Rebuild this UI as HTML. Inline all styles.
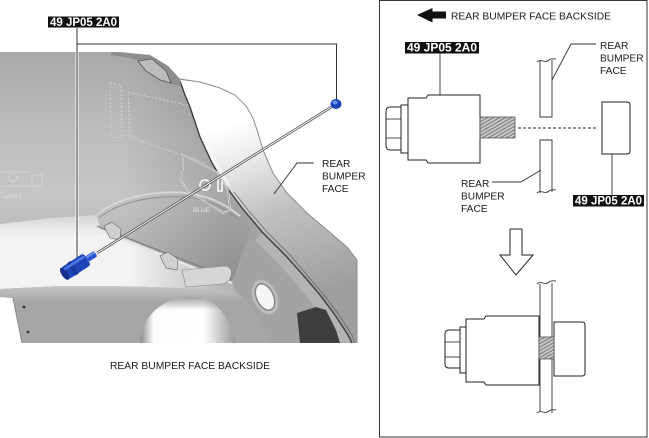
<!DOCTYPE html>
<html><head><meta charset="utf-8"><style>
html,body{margin:0;padding:0;background:#fff;}
svg{display:block;}
text{font-family:"Liberation Sans",Arial,sans-serif;}
</style></head><body>
<svg width="649" height="438" viewBox="0 0 649 438" xmlns="http://www.w3.org/2000/svg">
<defs>
 <linearGradient id="gUp" gradientUnits="userSpaceOnUse" x1="0" y1="52" x2="0" y2="290">
  <stop offset="0" stop-color="#a9a9a9"/><stop offset="0.35" stop-color="#bebebe"/><stop offset="0.6" stop-color="#c6c6c6"/><stop offset="1" stop-color="#a8a8a8"/>
 </linearGradient>
 <linearGradient id="gUpH" gradientUnits="userSpaceOnUse" x1="120" y1="0" x2="230" y2="0">
  <stop offset="0" stop-color="#000" stop-opacity="0"/><stop offset="1" stop-color="#000" stop-opacity="0.16"/>
 </linearGradient>
 <linearGradient id="gFace" gradientUnits="userSpaceOnUse" x1="240" y1="120" x2="300" y2="300">
  <stop offset="0" stop-color="#ffffff"/><stop offset="0.2" stop-color="#ececec"/><stop offset="0.5" stop-color="#c2c2c2"/><stop offset="1" stop-color="#9e9e9e"/>
 </linearGradient>
 <linearGradient id="gLowW" gradientUnits="userSpaceOnUse" x1="0" y1="206" x2="0" y2="236">
  <stop offset="0" stop-color="#c6c6c6"/><stop offset="1" stop-color="#f3f3f3"/>
 </linearGradient>
 <linearGradient id="gLowWH" gradientUnits="userSpaceOnUse" x1="130" y1="0" x2="240" y2="0">
  <stop offset="0" stop-color="#000" stop-opacity="0"/><stop offset="1" stop-color="#000" stop-opacity="0.28"/>
 </linearGradient>
 <linearGradient id="gBand" gradientUnits="userSpaceOnUse" x1="0" y1="287" x2="0" y2="302">
  <stop offset="0" stop-color="#c4c4c4"/><stop offset="1" stop-color="#a6a6a6"/>
 </linearGradient>
 <linearGradient id="gArch" gradientUnits="userSpaceOnUse" x1="140" y1="0" x2="238" y2="0">
  <stop offset="0" stop-color="#8a8a8a"/><stop offset="0.14" stop-color="#fcfcfc"/><stop offset="0.65" stop-color="#ffffff"/><stop offset="1" stop-color="#909090"/>
 </linearGradient>
 <linearGradient id="gArchV" gradientUnits="userSpaceOnUse" x1="0" y1="296" x2="0" y2="310">
  <stop offset="0" stop-color="#555" stop-opacity="0.6"/><stop offset="1" stop-color="#555" stop-opacity="0"/>
 </linearGradient>
 <pattern id="thr" width="3" height="3" patternUnits="userSpaceOnUse" patternTransform="rotate(60)">
  <rect width="3" height="3" fill="#c8c8c8"/><line x1="0.5" y1="0" x2="0.5" y2="3" stroke="#7a7a7a" stroke-width="1.1"/>
 </pattern>
</defs>

<!-- ===== LEFT ILLUSTRATION ===== -->
<path d="M0,52 L120,52 L150,55 L168,66 L180,79 L200,82 L220,88 L235,95 L246,106 L253,118 L258,133 L263,150 L273,173 L287,193 L307,213 L327,230 L347,247 L357,260 L357,343 L22,343 L13,298 L0,297 Z" fill="#a3a3a3"/>
<path d="M0,52 L120,52 L150,55 L168,66 L180,80 L190,107 L200,137 L212,163 L225,185 L242,208 L250,230 L240,260 L232,282 L100,229 L97,215 L50,218 L0,224 Z" fill="url(#gUp)"/>
<path d="M0,52 L120,52 L150,55 L168,66 L180,80 L190,107 L200,137 L212,163 L225,185 L242,208 L250,230 L240,260 L232,282 L100,229 L97,215 L50,218 L0,224 Z" fill="url(#gUpH)"/>
<!-- shelf top arc -->
<path d="M97,215 C115,199 150,190 185,193 C208,195 225,204 240,216" fill="none" stroke="#d6d6d6" stroke-width="2"/>
<path d="M99,218 C117,203 150,195 185,197 C207,199 223,207 238,219" fill="none" stroke="#8a8a8a" stroke-width="0.8"/>
<!-- lower white area -->
<path d="M0,224 L50,218 L97,215 L100,229 L232,282 L236,292 L200,289 L150,287 L110,286 L60,286 L0,289 Z" fill="url(#gLowW)"/>
<path d="M0,224 L50,218 L97,215 L100,229 L232,282 L236,292 L200,289 L150,287 L110,286 L60,286 L0,289 Z" fill="url(#gLowWH)"/>
<!-- rim band / flap -->
<path d="M0,289 L60,286 L110,286 L150,287 L200,289 L236,292 L250,305 L262,325 L270,343 L22,343 L13,298 L0,297 Z" fill="url(#gBand)"/>
<!-- arch white -->
<path d="M140,343 C142,318 158,301 185,297 C210,294 228,310 236,343 Z" fill="url(#gArch)"/>
<path d="M140,343 C142,318 158,301 185,297 C210,294 228,310 236,343 Z" fill="url(#gArchV)"/>
<!-- rib along crease -->
<polygon points="255,240 263,233 285,255 303,275 320,295 335,315 348,335 350,343 340,343 326,320 311,302 295,282 277,262" fill="#b3b3b3"/>
<!-- dark shadow -->
<polygon points="297,313 316,307 326,310 336,330 340,343 300,343" fill="#3e3e3e"/>
<!-- face -->
<path d="M180,80 L200,82 L220,88 L235,95 L246,106 L253,118 L258,133 L263,150 L273,173 L287,193 L307,213 L327,230 L347,247 L357,260 L357,343 L352,343 L348,335 L335,315 L320,295 L303,275 L285,255 L263,233 L242,208 L225,185 L212,163 L200,137 L190,107 Z" fill="url(#gFace)"/>
<!-- crease -->
<polyline points="180,81 185,95 190,107 195,122 200,137 206,150 212,163 225,185 242,208 263,233 285,255 303,275 320,295 335,315 348,335 352,343" fill="none" stroke="#383838" stroke-width="1.3"/>
<polyline points="184,84 189,98 194,110 199,125 204,139 210,152 216,164 229,185" fill="none" stroke="#fff" stroke-width="1.2"/>
<polyline points="234,192 248,210 268,233 290,255 307,275 324,295 339,315 352,335 355,343" fill="none" stroke="#6a6a6a" stroke-width="0.8"/>
<!-- outer edge -->
<polyline points="180,79 200,82 220,88 235,95 246,106 253,118 258,133 263,150 273,173 287,193 307,213 327,230 347,247 357,260 357,343" fill="none" stroke="#8c8c8c" stroke-width="1"/>
<!-- top flange + clip -->
<polygon points="112,52 150,55 168,66 180,79 181,86 172,84 160,72 145,62 125,57 110,55" fill="#8e8e8e"/>
<polygon points="138,61 152,59 166,71 171,83 160,80 146,71" fill="#bcbcbc" stroke="#555" stroke-width="0.8"/>
<!-- dashed faint marks -->
<g fill="none" stroke="#e2e2e2" stroke-width="0.8" stroke-dasharray="2,2" opacity="0.8">
 <polygon points="110,83 121,85 122,138 111,137"/>
 <path d="M200,108 L128,92 L130,137 L205,163"/>
</g>
<g fill="none" stroke="#dcdcdc" stroke-width="0.8" opacity="0.8">
 <circle cx="13" cy="178" r="4"/><rect x="32" y="175" width="10" height="11"/>
 <path d="M2,172 L30,172 M2,186 L40,186"/>
</g>
<text x="3" y="199" font-size="6" fill="#dedede">WHITE</text>
<!-- bracket outline near hole -->
<g fill="none" stroke="#fff" stroke-width="1.5">
 <polygon points="183,155 217,172 228,190 230,210 223,213 187,190 181,180 183,168"/>
 <circle cx="205" cy="185" r="5"/>
 <rect x="218" y="178" width="4" height="13"/>
</g>
<g fill="none" stroke="#555" stroke-width="0.5">
 <polygon points="183,155 217,172 228,190 230,210 223,213 187,190 181,180 183,168"/>
</g>
<text x="193" y="212" font-size="6.5" fill="#e4e4e4">BLUE</text>
<!-- shelf details -->
<line x1="97" y1="226" x2="232" y2="279" stroke="#7c7c7c" stroke-width="1"/>
<line x1="100" y1="230" x2="232" y2="283" stroke="#e6e6e6" stroke-width="2.5"/>
<path d="M182,270 L226,266 Q233,268 231,276 Q229,283 222,284 L186,287 Z" fill="#d6d6d6" stroke="#8a8a8a" stroke-width="0.6"/>
<polygon points="104,226 112,222 121,229 120,240 110,238" fill="#d0d0d0" stroke="#777" stroke-width="0.7"/>
<polygon points="160,256 168,252 178,259 177,270 166,268" fill="#d0d0d0" stroke="#777" stroke-width="0.7"/>
<!-- hole -->
<ellipse cx="265" cy="297" rx="12" ry="18" transform="rotate(-25 265 297)" fill="#bdbdbd"/>
<ellipse cx="265" cy="297" rx="8.5" ry="14" transform="rotate(-25 265 297)" fill="#f5f5f5" stroke="#888" stroke-width="1.5"/>
<!-- flap -->
<line x1="13" y1="298" x2="22" y2="343" stroke="#8a8a8a" stroke-width="1"/>
<circle cx="24" cy="307" r="1.4" fill="#333"/>
<circle cx="28" cy="332" r="1.4" fill="#333"/>

<!-- insertion line -->
<line x1="97" y1="253" x2="333" y2="106" stroke="#555" stroke-width="2.6"/>
<line x1="97" y1="253" x2="333" y2="106" stroke="#fff" stroke-width="1"/>

<!-- leader lines -->
<polyline points="77,28 77,262" fill="none" stroke="#fff" stroke-width="3"/>
<polyline points="77,28 77,262" fill="none" stroke="#333" stroke-width="1"/>
<polyline points="77,44 336.5,44 336.5,100" fill="none" stroke="#333" stroke-width="1"/>

<!-- blue tool -->
<g transform="translate(78,265) rotate(-33)">
 <rect x="-16" y="-7" width="27" height="14" rx="3" fill="#1d45b8"/>
 <ellipse cx="-16" cy="0" rx="3" ry="7" fill="#12308c"/>
 <rect x="-8" y="-7.5" width="4" height="15" fill="#163a9e"/>
 <rect x="-14" y="-5" width="24" height="2.5" fill="#5a85e8" opacity="0.8"/>
 <rect x="11" y="-3.2" width="10" height="6.4" rx="1.5" fill="#2a58d0"/>
 <rect x="11" y="-2.2" width="10" height="1.3" fill="#7fa2f0"/>
</g>
<!-- blue nut -->
<ellipse cx="336" cy="104" rx="5.5" ry="5" fill="#1d45b8"/>
<ellipse cx="335" cy="102.5" rx="2.5" ry="2" fill="#6a92ee"/>

<!-- labels left -->
<rect x="48" y="16.5" width="71" height="11" fill="#111"/>
<text x="50" y="26" font-size="11.5" font-weight="bold" fill="#fff" textLength="67" lengthAdjust="spacingAndGlyphs">49 JP05 2A0</text>

<polyline points="314,163 297,163 274,194" fill="none" stroke="#333" stroke-width="0.9"/>
<text font-size="10.2" fill="#1a1a1a"><tspan x="322" y="167">REAR</tspan><tspan x="322" y="179.5">BUMPER</tspan><tspan x="322" y="192">FACE</tspan></text>

<text x="110" y="369" font-size="10.5" fill="#1a1a1a" textLength="160" lengthAdjust="spacingAndGlyphs">REAR BUMPER FACE BACKSIDE</text>

<!-- ===== RIGHT PANEL ===== -->
<rect x="379.5" y="0.5" width="267.5" height="436.5" fill="none" stroke="#333" stroke-width="1"/>
<polygon points="417,15 432.5,8 432.5,11.5 446,11.5 446,18.5 432.5,18.5 432.5,22.5" fill="#111"/>
<text x="451" y="19.5" font-size="10.5" fill="#1a1a1a" textLength="160" lengthAdjust="spacingAndGlyphs">REAR BUMPER FACE BACKSIDE</text>

<g fill="#fff" stroke="#222" stroke-width="1">
 <!-- upper tool -->
 <path d="M401,107 L390,107 Q386,107 386,112 L386,145 Q386,150 390,150 L401,150 Z"/>
 <rect x="401" y="105" width="7" height="48"/>
 <path d="M408,98 L426,98 L428,95 L480,95 L480,163 L428,163 L426,160 L408,160 Z"/>
 <!-- right cap -->
 <path d="M602,102 L627,102 Q630,102 630,105 L630,151 Q630,154 627,154 L602,154 Z"/>
 <!-- lower tool -->
 <path d="M460,330 L449,330 Q445,330 445,334 L445,364 Q445,368 449,368 L460,368 Z"/>
 <rect x="460" y="327" width="6" height="46"/>
 <path d="M466,319 L484,319 L486,316 L539,316 L539,385 L486,385 L484,382 L466,382 Z"/>
 <path d="M554,322 L582,322 Q585,322 585,325 L585,373 Q585,376 582,376 L554,376 Z"/>
 <!-- down arrow -->
 <polygon points="510,229 522,229 522,255 533,255 516,275 500,255 510,255"/>
</g>
<g stroke="#222" stroke-width="0.8">
 <line x1="386" y1="119" x2="401" y2="119"/><line x1="386" y1="138" x2="401" y2="138"/>
 <line x1="445" y1="342" x2="460" y2="342"/><line x1="445" y1="357" x2="460" y2="357"/>
</g>
<!-- threads -->
<rect x="480" y="117" width="35" height="21" fill="url(#thr)" stroke="#555" stroke-width="0.8"/>
<rect x="539" y="337" width="15" height="22" fill="url(#thr)" stroke="#555" stroke-width="0.8"/>
<!-- dashed line -->
<line x1="518" y1="128" x2="597" y2="128" stroke="#222" stroke-width="1" stroke-dasharray="3,2"/>

<!-- bumper face pieces -->
<g fill="none" stroke="#333" stroke-width="0.9">
 <path d="M540,61 L540,117 L552,117 L552,60"/>
 <path d="M537,62 C541,58 545,64 549,60 C551,58 553,59 556,59"/>
 <path d="M540,193 L540,140 L552,140 L552,192"/>
 <path d="M537,193 C541,189 545,195 549,191 C551,189 553,190 556,190"/>
 <path d="M540,284 L540,337 M552,283 L552,337 M540,359 L540,412 M552,359 L552,413"/>
 <path d="M537,284 C541,280 545,286 549,282 C551,280 553,281 556,281"/>
 <path d="M537,413 C541,409 545,415 549,411 C551,409 553,410 556,410"/>
</g>

<!-- leaders right -->
<g fill="none" stroke="#333" stroke-width="0.9">
 <line x1="440" y1="53.5" x2="440" y2="95"/>
 <line x1="612" y1="154" x2="612" y2="195"/>
 <polyline points="552,80 571,44 596,44"/>
 <polyline points="541,170 521,182 492,182"/>
</g>

<rect x="405" y="42" width="74" height="11.5" fill="#111"/>
<text x="407" y="51.5" font-size="11.5" font-weight="bold" fill="#fff" textLength="70" lengthAdjust="spacingAndGlyphs">49 JP05 2A0</text>
<rect x="573" y="195" width="71" height="11.5" fill="#111"/>
<text x="575" y="204.5" font-size="11.5" font-weight="bold" fill="#fff" textLength="67" lengthAdjust="spacingAndGlyphs">49 JP05 2A0</text>

<text font-size="10.2" fill="#1a1a1a"><tspan x="600" y="49">REAR</tspan><tspan x="600" y="61.5">BUMPER</tspan><tspan x="600" y="74">FACE</tspan></text>
<text font-size="10.2" fill="#1a1a1a"><tspan x="461" y="187">REAR</tspan><tspan x="461" y="199.5">BUMPER</tspan><tspan x="461" y="212">FACE</tspan></text>
</svg>
</body></html>
